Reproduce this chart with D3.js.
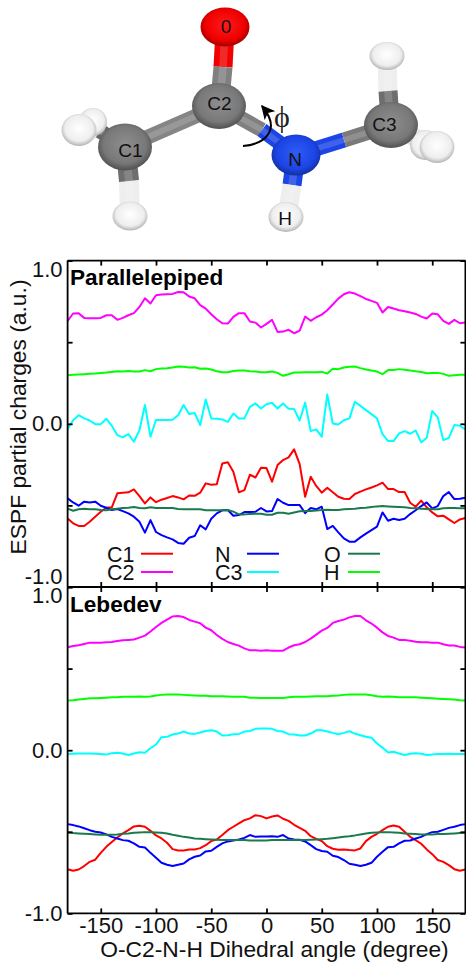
<!DOCTYPE html>
<meta charset="utf-8">

<style type="text/css">
  html, body { margin: 0; padding: 0; background: white; }
  svg { display: block; font-family: "Liberation Sans", Arial, sans-serif; }

  .axis path, .axis line { stroke: black; stroke-width: 1.8; }
  .axis text { font-size: 22px; fill: #111; font-family: "Liberation Sans", Arial, sans-serif; }
  .series { fill: none; stroke-width: 2; stroke-linejoin: round; }
  .panel-title { font-size: 22.6px; font-weight: bold; }
  .legend-label { font-size: 21.5px; fill: #111; }
  .big-label { font-size: 22.8px; fill: #111; }
  .atom-label { font-size: 19px; fill: #111; }
</style>

<body>
<script src="https://d3js.org/d3.v7.min.js"></script>

<script>

var angles = d3.range(-180, 185, 5); // one sample every 5 degrees
var xTicks = [-150, -100, -50, 0, 50, 100, 150];
var yTicks = [-1, -0.5, 0, 0.5, 1];
var yLabelled = [-1, 0, 1];

// parallelepiped grid
var paraC1 = [
  -.58,-.61,-.626,-.626,-.6,-.57,-.539,-.514,-.512,-.426,
  -.422,-.42,-.402,-.443,-.488,-.451,-.48,-.465,-.455,-.443,
  -.451,-.463,-.439,-.441,-.422,-.365,-.373,-.371,-.243,-.236,
  -.294,-.42,-.406,-.312,-.329,-.269,-.271,-.355,-.253,-.222,
  -.206,-.157,-.247,-.447,-.324,-.381,-.422,-.392,-.42,-.447,
  -.459,-.461,-.43,-.416,-.402,-.39,-.377,-.361,-.4,-.4,
  -.418,-.418,-.484,-.508,-.471,-.512,-.543,-.567,-.563,-.586,
  -.608,-.586,-.577];
var paraC2 = [
  .631,.676,.678,.649,.647,.647,.649,.665,.665,.637,
  .649,.665,.678,.716,.769,.737,.788,.792,.794,.796,
  .808,.806,.78,.769,.727,.706,.671,.641,.616,.614,
  .655,.678,.678,.627,.62,.59,.612,.637,.563,.565,
  .576,.555,.571,.657,.631,.653,.669,.696,.731,.767,
  .794,.806,.798,.782,.765,.753,.741,.682,.716,.706,
  .696,.69,.682,.673,.657,.645,.676,.671,.631,.612,
  .637,.616,.62];
var paraN = [
  -.457,-.482,-.502,-.477,-.482,-.477,-.502,-.514,-.528,-.522,
  -.535,-.549,-.569,-.6,-.667,-.59,-.663,-.682,-.696,-.708,
  -.73,-.735,-.698,-.688,-.622,-.647,-.582,-.549,-.53,-.528,
  -.563,-.559,-.541,-.541,-.539,-.516,-.537,-.535,-.461,-.484,
  -.498,-.498,-.498,-.547,-.516,-.524,-.508,-.645,-.626,-.665,
  -.702,-.722,-.722,-.696,-.673,-.651,-.63,-.543,-.594,-.582,
  -.59,-.582,-.553,-.53,-.504,-.482,-.518,-.504,-.443,-.418,
  -.461,-.459,-.453];
var paraC3 = [
  -.034,.022,.053,.033,.02,-.002,-.002,.031,-.012,-.069,
  -.083,-.063,-.11,-.039,.115,-.079,.023,.023,.023,.025,
  .053,.115,.06,.066,-.008,.149,.033,.031,.027,.012,
  .063,.033,.033,.104,.125,.094,.12,.129,.094,.125,
  .092,.09,.02,.13,-.045,-.034,-.079,.18,.002,-.004,
  .022,.033,.135,.11,.084,.059,.033,-.063,-.106,-.106,
  -.059,-.045,-.061,-.041,-.114,-.086,.078,.039,-.1,-.086,
  -.008,-.012,-.034];
var paraO = [
  -.52,-.533,-.524,-.52,-.524,-.524,-.528,-.53,-.524,-.52,
  -.516,-.514,-.51,-.516,-.518,-.512,-.516,-.516,-.516,-.516,
  -.522,-.524,-.524,-.524,-.524,-.53,-.53,-.53,-.53,-.528,
  -.538,-.555,-.555,-.553,-.551,-.551,-.557,-.557,-.545,-.545,
  -.551,-.543,-.536,-.534,-.534,-.532,-.528,-.526,-.528,-.528,
  -.524,-.522,-.52,-.516,-.514,-.51,-.506,-.504,-.506,-.508,
  -.51,-.512,-.516,-.518,-.52,-.522,-.524,-.524,-.518,-.516,
  -.516,-.518,-.518];
var paraH = [
  .298,.3,.302,.304,.306,.308,.312,.314,.318,.322,
  .32,.324,.32,.32,.329,.322,.335,.339,.341,.345,
  .351,.349,.345,.347,.337,.339,.333,.322,.316,.316,
  .324,.327,.327,.322,.32,.316,.316,.32,.312,.294,
  .304,.314,.314,.316,.316,.316,.318,.308,.337,.335,
  .345,.349,.351,.341,.333,.327,.32,.304,.329,.329,
  .335,.331,.327,.322,.318,.31,.312,.312,.306,.294,
  .298,.3,.3];

// lebedev grid
var lebC1 = [
  -.729,-.739,-.731,-.71,-.684,-.671,-.629,-.592,-.563,-.535,
  -.51,-.49,-.467,-.463,-.469,-.494,-.522,-.541,-.567,-.606,
  -.614,-.614,-.608,-.608,-.6,-.582,-.557,-.547,-.52,-.49,
  -.469,-.449,-.429,-.418,-.398,-.404,-.418,-.406,-.4,-.42,
  -.433,-.457,-.476,-.494,-.527,-.543,-.557,-.588,-.604,-.61,
  -.608,-.612,-.614,-.602,-.557,-.531,-.512,-.49,-.469,-.461,
  -.469,-.5,-.531,-.551,-.573,-.608,-.637,-.673,-.684,-.704,
  -.729,-.739,-.731];
var lebC2 = [
  .631,.639,.643,.651,.659,.659,.659,.661,.663,.669,
  .673,.676,.678,.69,.702,.727,.755,.78,.8,.82,
  .822,.816,.798,.788,.778,.751,.735,.706,.682,.663,
  .651,.641,.624,.612,.612,.61,.612,.61,.61,.61,
  .629,.643,.649,.663,.684,.708,.733,.749,.78,.792,
  .8,.814,.822,.822,.796,.776,.751,.722,.7,.69,
  .676,.676,.671,.665,.661,.661,.659,.659,.649,.641,
  .641,.633,.629];
var lebN = [
  -.453,-.459,-.467,-.478,-.49,-.5,-.504,-.516,-.531,-.541,
  -.551,-.555,-.571,-.592,-.596,-.629,-.659,-.69,-.702,-.71,
  -.702,-.694,-.669,-.653,-.645,-.62,-.616,-.592,-.571,-.559,
  -.553,-.547,-.537,-.52,-.531,-.529,-.529,-.527,-.531,-.52,
  -.541,-.547,-.549,-.559,-.582,-.606,-.618,-.622,-.647,-.655,
  -.673,-.696,-.702,-.71,-.702,-.69,-.653,-.622,-.594,-.592,
  -.571,-.555,-.553,-.541,-.531,-.514,-.502,-.5,-.488,-.476,
  -.469,-.459,-.453];
var lebC3 = [
  -.024,-.022,-.02,-.02,-.02,-.022,-.024,-.027,-.018,-.016,
  -.02,-.029,-.02,-.012,-.016,.012,.035,.08,.082,.096,
  .102,.114,.102,.1,.108,.118,.122,.114,.09,.092,
  .098,.1,.114,.118,.131,.133,.133,.131,.118,.114,
  .098,.096,.09,.09,.102,.122,.122,.114,.106,.098,
  .106,.116,.102,.092,.082,.076,.041,.016,-.014,-.01,
  -.02,-.029,-.022,-.018,-.022,-.029,-.027,-.024,-.024,-.022,
  -.024,-.024,-.024];
var lebO = [
  -.504,-.508,-.51,-.512,-.514,-.516,-.518,-.518,-.518,-.516,
  -.512,-.51,-.506,-.504,-.502,-.502,-.504,-.506,-.51,-.518,
  -.524,-.531,-.535,-.541,-.543,-.545,-.547,-.549,-.551,-.551,
  -.551,-.551,-.551,-.553,-.553,-.553,-.553,-.551,-.551,-.551,
  -.551,-.551,-.551,-.551,-.549,-.547,-.545,-.543,-.539,-.535,
  -.531,-.527,-.522,-.516,-.51,-.506,-.504,-.502,-.502,-.504,
  -.506,-.51,-.512,-.514,-.516,-.516,-.516,-.514,-.514,-.512,
  -.51,-.508,-.506];
var lebH = [
  .304,.306,.31,.314,.318,.318,.32,.322,.324,.324,
  .327,.327,.327,.329,.327,.329,.335,.339,.341,.341,
  .341,.339,.337,.335,.333,.333,.331,.331,.331,.329,
  .327,.327,.327,.322,.322,.32,.32,.32,.32,.32,
  .324,.327,.327,.327,.329,.331,.331,.331,.333,.335,
  .339,.341,.341,.341,.341,.337,.331,.327,.329,.327,
  .324,.324,.324,.324,.322,.32,.318,.316,.314,.312,
  .31,.306,.304];

var names = ["C1", "C2", "N", "C3", "O", "H"];
var colors = ["#ff0000", "#ff00ff", "#0000ff", "#00ffff", "#1a7a4c", "#00ff00"];
var paraSeries = [paraC1, paraC2, paraN, paraC3, paraO, paraH];
var lebSeries = [lebC1, lebC2, lebN, lebC3, lebO, lebH];

var w = 466, h = 962;
var left = 67.6, right = 465.4;
var panels = [
  {title: "Parallelepiped", series: paraSeries, top: 260.6, bottom: 587, titleY: 285},
  {title: "Lebedev", series: lebSeries, top: 587, bottom: 913.4, titleY: 612}
];

var svg = d3.select("body").append("svg")
  .attr("width", w)
  .attr("height", h);

var defs = svg.append("defs");

var xscale = d3.scaleLinear().domain([-180, 180]).range([left, right]);

// nudges so the end labels stay beside the frame, as in the figure
var labelShift = [{"1": 15.5, "0": 7, "-1": -4}, {"1": 15, "0": 7, "-1": 7}];

panels.forEach(function(p, k) {
  var yscale = d3.scaleLinear().domain([-1, 1]).range([p.bottom, p.top]);

  var line = d3.line()
    .x(function(d, i) { return xscale(angles[i]); })
    .y(function(d) { return yscale(d); });

  var g = svg.append("g");

  g.selectAll(".series")
    .data(p.series)
    .enter().append("path")
    .attr("class", "series")
    .attr("stroke", function(d, i) { return colors[i]; })
    .attr("d", line);

  var yaxis = d3.axisLeft(yscale)
    .tickValues(yTicks)
    .tickSize(-5)
    .tickPadding(10)
    .tickFormat(function(d) { return yLabelled.indexOf(d) >= 0 ? d3.format(".1f")(d).replace("\u2212", "-") : ""; });

  var ya = g.append("g").attr("class", "axis").attr("transform", "translate(" + left + ",0)").call(yaxis);
  ya.select(".domain").attr("d", "M0," + p.top + "V" + p.bottom);
  ya.selectAll("text")
    .attr("x", -5)
    .attr("dy", null)
    .attr("y", function(d) { return labelShift[k][d] || 0; });

  var yr = g.append("g").attr("class", "axis").attr("transform", "translate(" + right + ",0)")
    .call(d3.axisRight(yscale).tickValues(yTicks).tickSize(-5).tickFormat(""));
  yr.select(".domain").attr("d", "M0," + p.top + "V" + p.bottom);

  var xt = g.append("g").attr("class", "axis").attr("transform", "translate(0," + p.top + ")")
    .call(d3.axisTop(xscale).tickValues(xTicks).tickSize(-5).tickFormat(""));
  xt.select(".domain").attr("d", "M" + left + ",0H" + right);

  var xb = g.append("g").attr("class", "axis").attr("transform", "translate(0," + p.bottom + ")")
    .call(d3.axisBottom(xscale).tickValues(xTicks).tickSize(-5).tickPadding(4)
      .tickFormat(function(d) { return k == 1 ? String(d) : ""; }));
  xb.select(".domain").attr("d", "M" + left + ",0H" + right);

  g.append("text")
    .attr("class", "panel-title")
    .attr("x", 70)
    .attr("y", p.titleY)
    .text(p.title);
});

// legend, two rows of three
var legendCols = [{tx: 107, lx: 141}, {tx: 215, lx: 247}, {tx: 324, lx: 348}];
var legendRows = [{ty: 561.5, ly: 553.7}, {ty: 579.5, ly: 572}];
var legendPlace = [[0, 0], [0, 1], [1, 0], [1, 1], [2, 0], [2, 1]];

var legend = svg.append("g").selectAll("g")
  .data(names)
  .enter().append("g");

legend.append("text")
  .attr("class", "legend-label")
  .attr("x", function(d, i) { return legendCols[legendPlace[i][0]].tx; })
  .attr("y", function(d, i) { return legendRows[legendPlace[i][1]].ty; })
  .text(function(d) { return d; });

legend.append("line")
  .attr("x1", function(d, i) { return legendCols[legendPlace[i][0]].lx; })
  .attr("x2", function(d, i) { return legendCols[legendPlace[i][0]].lx + 32; })
  .attr("y1", function(d, i) { return legendRows[legendPlace[i][1]].ly; })
  .attr("y2", function(d, i) { return legendRows[legendPlace[i][1]].ly; })
  .attr("stroke", function(d, i) { return colors[i]; })
  .attr("stroke-width", 2);

svg.append("text")
  .attr("class", "big-label")
  .attr("text-anchor", "middle")
  .attr("transform", "translate(26,417) rotate(-90)")
  .text("ESPF partial charges (a.u.)");

svg.append("text")
  .attr("class", "big-label")
  .attr("text-anchor", "middle")
  .attr("x", 274.5)
  .attr("y", 957)
  .text("O-C2-N-H Dihedral angle (degree)");

// ---- the molecule sketch on top ----

var shades = {
  gray: ["#8e8e8e", "#787878", "#505050"],
  red: ["#ff1a1a", "#f00000", "#a00000"],
  blue: ["#2f5cf5", "#1c44e6", "#12309c"],
  white: ["#ffffff", "#eeeeee", "#b4b4b4"]
};

Object.keys(shades).forEach(function(k) {
  var grad = defs.append("radialGradient")
    .attr("id", "ball-" + k)
    .attr("cx", "50%").attr("cy", "45%").attr("r", "55%");
  grad.append("stop").attr("offset", "0%").attr("stop-color", shades[k][0]);
  grad.append("stop").attr("offset", "72%").attr("stop-color", shades[k][1]);
  grad.append("stop").attr("offset", "100%").attr("stop-color", shades[k][2]);
});

defs.append("marker")
  .attr("id", "arrow-head")
  .attr("viewBox", "0 0 10 10")
  .attr("refX", 9).attr("refY", 5)
  .attr("markerWidth", 7).attr("markerHeight", 7)
  .attr("markerUnits", "strokeWidth")
  .attr("orient", "auto")
  .append("path").attr("d", "M0,0L10,5L0,10L2.5,5z").attr("fill", "black");

var bonds = [
  {x1: 80, y1: 130, x2: 100, y2: 131, c: "#e4e4e4", w: 15},
  {x1: 100, y1: 131, x2: 125, y2: 147, c: "#666666", w: 15},
  {x1: 130, y1: 216, x2: 129, y2: 181, c: "#eeeeee", w: 20},
  {x1: 129, y1: 181, x2: 126, y2: 150, c: "#6e6e6e", w: 20},
  {x1: 125, y1: 147, x2: 219, y2: 106, c: "#858585", w: 15},
  {x1: 225, y1: 30, x2: 223, y2: 67, c: "#f00000", w: 19},
  {x1: 223, y1: 67, x2: 220, y2: 100, c: "#808080", w: 19},
  {x1: 219, y1: 106, x2: 262, y2: 130, c: "#808080", w: 15},
  {x1: 262, y1: 130, x2: 296, y2: 155, c: "#1c44e6", w: 15},
  {x1: 296, y1: 155, x2: 344, y2: 140, c: "#1c44e6", w: 15},
  {x1: 344, y1: 140, x2: 391, y2: 125, c: "#7a7a7a", w: 15},
  {x1: 296, y1: 155, x2: 292, y2: 185, c: "#1c44e6", w: 19},
  {x1: 292, y1: 185, x2: 287, y2: 217, c: "#eeeeee", w: 19},
  {x1: 387, y1: 56, x2: 388, y2: 91, c: "#eeeeee", w: 19},
  {x1: 388, y1: 91, x2: 390, y2: 120, c: "#6e6e6e", w: 19},
  {x1: 398, y1: 130, x2: 425, y2: 145, c: "#dddddd", w: 15},
  {x1: 405, y1: 128, x2: 437, y2: 147, c: "#eeeeee", w: 13}
];

var atoms = [
  {name: "H", x: 93, y: 122, rx: 14, ry: 14, ball: "white"},
  {name: "H", x: 425, y: 145, rx: 15, ry: 15, ball: "white"},
  {name: "H", x: 79, y: 130, rx: 17.5, ry: 16, ball: "white"},
  {name: "H", x: 130, y: 216, rx: 17.5, ry: 14.5, ball: "white"},
  {name: "H", x: 286, y: 217, rx: 17.5, ry: 15, ball: "white"},
  {name: "H", x: 387, y: 56, rx: 17.5, ry: 14, ball: "white"},
  {name: "H", x: 437, y: 147, rx: 17.5, ry: 16, ball: "white"},
  {name: "O", x: 225, y: 27, rx: 24.5, ry: 19.5, ball: "red"},
  {name: "C1", x: 125, y: 147, rx: 27, ry: 23.5, ball: "gray"},
  {name: "C2", x: 219, y: 106, rx: 27, ry: 23, ball: "gray"},
  {name: "C3", x: 391, y: 125, rx: 27, ry: 23, ball: "gray"},
  {name: "N", x: 296, y: 155, rx: 24.5, ry: 20.5, ball: "blue"}
];

var atomLabels = [
  {t: "0", x: 226, y: 33},
  {t: "C1", x: 130.5, y: 157},
  {t: "C2", x: 219.5, y: 110},
  {t: "C3", x: 384.5, y: 131},
  {t: "N", x: 295, y: 166},
  {t: "H", x: 285, y: 225}
];

var mol = svg.append("g");

var bondLine = function(sel) {
  sel.attr("x1", function(d) { return d.x1; })
    .attr("y1", function(d) { return d.y1; })
    .attr("x2", function(d) { return d.x2; })
    .attr("y2", function(d) { return d.y2; });
};

mol.selectAll(".bond")
  .data(bonds)
  .enter().append("line")
  .attr("class", "bond")
  .call(bondLine)
  .attr("stroke", function(d) { return d.c; })
  .attr("stroke-width", function(d) { return d.w; });

// lighter strip along the middle of each bond, so the sticks read as round
mol.selectAll(".bond-shine")
  .data(bonds)
  .enter().append("line")
  .attr("class", "bond-shine")
  .call(bondLine)
  .attr("stroke", "white")
  .attr("stroke-opacity", 0.16)
  .attr("stroke-width", function(d) { return d.w * 0.4; });

mol.selectAll(".atom")
  .data(atoms)
  .enter().append("ellipse")
  .attr("class", "atom")
  .attr("cx", function(d) { return d.x; })
  .attr("cy", function(d) { return d.y; })
  .attr("rx", function(d) { return d.rx; })
  .attr("ry", function(d) { return d.ry; })
  .attr("fill", function(d) { return "url(#ball-" + d.ball + ")"; });

mol.selectAll(".atom-label")
  .data(atomLabels)
  .enter().append("text")
  .attr("class", "atom-label")
  .attr("text-anchor", "middle")
  .attr("x", function(d) { return d.x; })
  .attr("y", function(d) { return d.y; })
  .text(function(d) { return d.t; });

// rotation arrow and phi
mol.append("path")
  .attr("d", "M243,146C258,145 270,138 271,126C271,118 267,112 262,106")
  .attr("fill", "none")
  .attr("stroke", "black")
  .attr("stroke-width", 2)
  .attr("marker-end", "url(#arrow-head)");

mol.append("text")
  .attr("x", 282)
  .attr("y", 127)
  .attr("text-anchor", "middle")
  .attr("font-size", 30)
  .attr("font-family", "Liberation Serif, DejaVu Serif, serif")
  .attr("fill", "#222")
  .text("\u03d5");

</script>
</body>
